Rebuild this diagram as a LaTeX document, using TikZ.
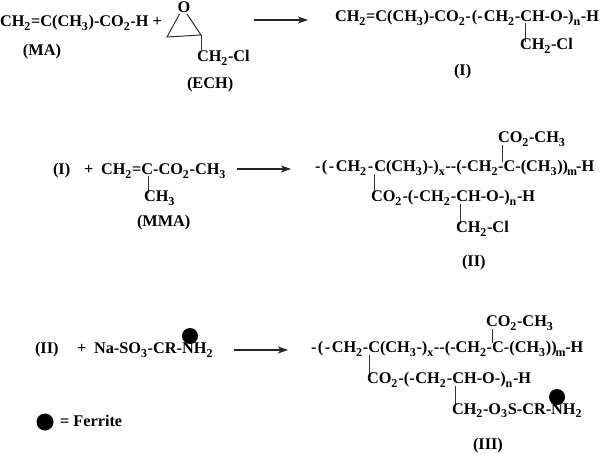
\documentclass[tikz,border=0pt]{standalone}
\usepackage{fontspec}
\setmainfont{Liberation Serif}
\usetikzlibrary{arrows.meta}
\newcommand{\sbx}[1]{\raisebox{-0.22em}{\fontsize{12}{13}\selectfont #1}\kern0.6pt}
\tikzset{
  chem/.style={anchor=base west,inner sep=0pt,outer sep=0pt,font=\fontsize{16.3}{18}\selectfont\bfseries},
  stem/.style={line width=1pt,black!80},
  rxn/.style={line width=1.1pt,black!85,-{Stealth[length=10pt,width=7pt,inset=2.5pt]}},
  ferrite/.style={circle,fill=black,inner sep=0pt,minimum size=#1}
}
\begin{document}
\begin{tikzpicture}[x=1pt,y=-1pt]
\useasboundingbox (0,0) rectangle (600,454);
% Row 1
\node[chem] (ma) at (0,27) {CH\sbx{2}=C(CH\sbx{3})-CO\sbx{2}-H +};
\node[chem] (malab) at (23,56) {(MA)};
\node[chem] (epo) at (177.5,12.8) {O};
\coordinate (r1) at (167,37);
\coordinate (r2) at (201,35);
\coordinate (r3) at (201,50);
\draw[stem] (179.5,14) -- (r1) -- (r2) -- (187,14);
\draw[stem] (r2) -- (r3);
\node[chem] (echcl) at (197,62) {CH\sbx{2}-Cl};
\node[chem] (echlab) at (187,89) {(ECH)};
\coordinate (a1s) at (254,20);
\coordinate (a1e) at (308,20);
\draw[rxn] (a1s) -- (a1e);
\node[chem] (prodI) at (335,22) {CH\sbx{2}=C(CH\sbx{3})-CO\sbx{2}-\kern1pt(-\kern1pt CH\sbx{2}-CH-O-)\sbx{n}-H};
\coordinate (s1a) at (525,23);
\coordinate (s1b) at (525,42);
\draw[stem] (s1a) -- (s1b);
\node[chem] (prodIcl) at (520,50) {CH\sbx{2}-Cl};
\node[chem] (labI) at (454,76) {(I)};
% Row 2
\node[chem] (i2) at (53,175) {(I)};
\node[chem] (plus2) at (84,175) {+};
\node[chem] (mma) at (101,175) {CH\sbx{2}=C-CO\sbx{2}-CH\sbx{3}};
\coordinate (s2a) at (148,176);
\coordinate (s2b) at (148,193);
\draw[stem] (s2a) -- (s2b);
\node[chem] (mmach) at (144,202) {CH\sbx{3}};
\node[chem] (mmalab) at (137,227) {(MMA)};
\coordinate (a2s) at (237,169);
\coordinate (a2e) at (291,169);
\draw[rxn] (a2s) -- (a2e);
\node[chem] (iico) at (498,143) {CO\sbx{2}-CH\sbx{3}};
\coordinate (s3a) at (502,145);
\coordinate (s3b) at (502,162);
\draw[stem] (s3a) -- (s3b);
\node[chem] (iimain) at (315,172) {-\kern1.5pt(\kern1.5pt-\kern1.5pt CH\sbx{2}\kern1pt-\kern1pt C(CH\sbx{3})-)\sbx{x}-{}-(-CH\sbx{2}-C-(CH\sbx{3}))\kern-1pt\sbx{m}\kern-1.5pt-H};
\coordinate (s4a) at (374,174);
\coordinate (s4b) at (374,194);
\draw[stem] (s4a) -- (s4b);
\node[chem] (iico2) at (371,202) {CO\sbx{2}\kern0.5pt-(-\kern0.5pt CH\sbx{2}\kern0.5pt-CH-O-)\sbx{n}-H};
\coordinate (s5a) at (460,204);
\coordinate (s5b) at (460,224);
\draw[stem] (s5a) -- (s5b);
\node[chem] (iicl) at (456,233) {CH\sbx{2}-Cl};
\node[chem] (labII) at (462,267) {(II)};
% Row 3
\node[chem] (ii3) at (35,354) {(II)};
\node[chem] (plus3) at (77,354) {+};
\node[chem] (nas) at (94,354) {Na-SO\sbx{3}-CR-NH\sbx{2}};
\node[ferrite=16pt] (f1) at (190,336) {};
\coordinate (a3s) at (234,350);
\coordinate (a3e) at (288,350);
\draw[rxn] (a3s) -- (a3e);
\node[ferrite=17pt] (f2) at (45,422) {};
\node[chem] (fer) at (60,426) {= Ferrite};
\node[chem] (iiico) at (486,327) {CO\sbx{2}-CH\sbx{3}};
\coordinate (s6a) at (492,329);
\coordinate (s6b) at (492,343);
\draw[stem] (s6a) -- (s6b);
\node[chem] (iiimain) at (311,353) {-\kern1.5pt(\kern1.5pt-\kern1.5pt CH\sbx{2}-C(CH\sbx{3}-)\sbx{x}-{}-(-CH\sbx{2}-C-(CH\sbx{3}))\kern-1pt\sbx{m}\kern-1pt-H};
\coordinate (s7a) at (369,355);
\coordinate (s7b) at (369,375);
\draw[stem] (s7a) -- (s7b);
\node[chem] (iiico2) at (367,384) {CO\sbx{2}\kern0.5pt-(-\kern0.5pt CH\sbx{2}\kern0.5pt-CH-O-)\sbx{n}-H};
\coordinate (s8a) at (455,386);
\coordinate (s8b) at (455,406);
\draw[stem] (s8a) -- (s8b);
\node[chem] (iiis) at (452,414) {CH\sbx{2}-O\sbx{3}S-CR-NH\sbx{2}};
\node[ferrite=16pt] (f3) at (557,397) {};
\node[chem] (labIII) at (473,449) {(III)};
\end{tikzpicture}
\end{document}
